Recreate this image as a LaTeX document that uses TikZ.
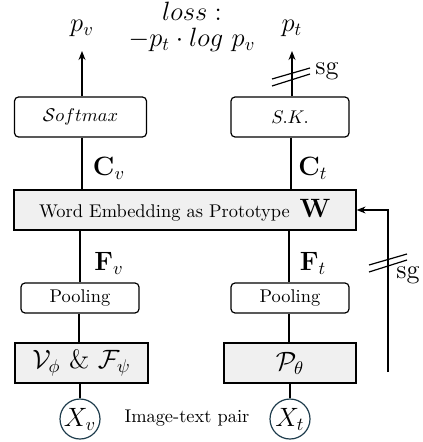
\documentclass[tikz,border=0pt]{standalone}
\usetikzlibrary{arrows.meta}
\definecolor{boxfill}{HTML}{F0F0F0}
\definecolor{circedge}{HTML}{1E3C4C}
% one drawing unit
\newcommand\pxu{0.5435pt}
\tikzset{
  every node/.style={font=\normalsize, inner sep=0pt},
  big/.style={font=\Large},
  roundbox/.style={draw, rounded corners=2.2pt, line width=0.65pt},
  graybox/.style={draw, fill=boxfill, line width=0.65pt},
  inpt/.style={draw=circedge, circle, line width=0.65pt, minimum size=40*\pxu, font=\Large},
  link/.style={line width=0.65pt},
  arr/.style={line width=0.65pt, -{Stealth[length=4.9pt,width=3.8pt]}},
  sgcut/.pic={
    \draw[line width=0.65pt] (-19,2) -- (19,-9);
    \draw[line width=0.65pt] (-19,9) -- (19,-3);
  }
}
\begin{document}
\begin{tikzpicture}[x=\pxu, y=-\pxu]
  \useasboundingbox (0,0) rectangle (423,442);

  % upper heads
  \node[roundbox, minimum width=132*\pxu, minimum height=40*\pxu] (soft) at (80.5,117) {$\mathcal{S}oftmax$};
  \node[roundbox, minimum width=118*\pxu, minimum height=40*\pxu] (sk) at (290,117) {$S.K.$};

  % shared prototype layer
  \node[graybox, minimum width=342*\pxu, minimum height=40*\pxu] (web) at (185,210)
    {Word Embedding as Prototype\hspace{5.4pt}{\Large$\mathbf{W}$}\hspace{13pt}};

  % pooling
  \node[roundbox, minimum width=118*\pxu, minimum height=30*\pxu] (poolv) at (80,298) {Pooling};
  \node[roundbox, minimum width=118*\pxu, minimum height=30*\pxu] (poolt) at (290,298) {Pooling};

  % encoders
  \node[graybox, big, minimum width=133*\pxu, minimum height=40*\pxu] (encv) at (81.5,363) {$\mathcal{V}_\phi$ \& $\mathcal{F}_\psi$};
  \node[graybox, big, minimum width=132*\pxu, minimum height=40*\pxu] (enct) at (290,363) {$\mathcal{P}_\theta$};

  % inputs
  \node[inpt] (xv) at (80,419) {$X_v$};
  \node[inpt] (xt) at (290,419) {$X_t$};
  \node (pair) at (187,418) {Image-text pair};

  % outputs and loss
  \node[big] (pv) at (82,28) {$p_v$};
  \node[big] (pt) at (292,28) {$p_t$};
  \node[big, anchor=base] (lossa) at (192,20.5) {$loss:$};
  \node[big, anchor=base] (lossb) at (192,46.5) {$-p_t\cdot log\ p_v$};
  \coordinate (pvtip) at (82,51);
  \coordinate (pttip) at (292,51);

  % connectors
  \draw[arr] (soft.north -| pvtip) -- (pvtip);
  \draw[arr] (sk.north -| pttip) -- (pttip);
  \draw[link] (soft.south -| 82,0) -- (web.north -| 82,0);
  \draw[link] (sk.south -| 291,0) -- (web.north -| 291,0);
  \draw[link] (web.south -| 80,0) -- (poolv.north -| 80,0);
  \draw[link] (web.south -| 289,0) -- (poolt.north -| 289,0);
  \draw[link] (poolv.south -| 79,0) -- (encv.north -| 79,0);
  \draw[link] (poolt.south -| 289,0) -- (enct.north -| 289,0);
  \draw[link] (encv.south -| xv) -- (xv);
  \draw[link] (enct.south -| xt) -- (xt);

  % feature labels
  \node[big] (cv) at (109,168) {$\mathbf{C}_v$};
  \node[big] (ct) at (313,168) {$\mathbf{C}_t$};
  \node[big] (fv) at (109,263) {$\mathbf{F}_v$};
  \node[big] (ft) at (313,263) {$\mathbf{F}_t$};

  % stop-gradient feedback into the prototypes
  \coordinate (fb) at (388,372);
  \draw[arr] (fb) |- (web.east);

  % stop-gradient marks
  \pic at (291,77) {sgcut};
  \node[big, anchor=west] (sga) at (315,71) {sg};
  \pic at (388,263) {sgcut};
  \node[big, anchor=west] (sgb) at (396,275) {sg};
\end{tikzpicture}
\end{document}
